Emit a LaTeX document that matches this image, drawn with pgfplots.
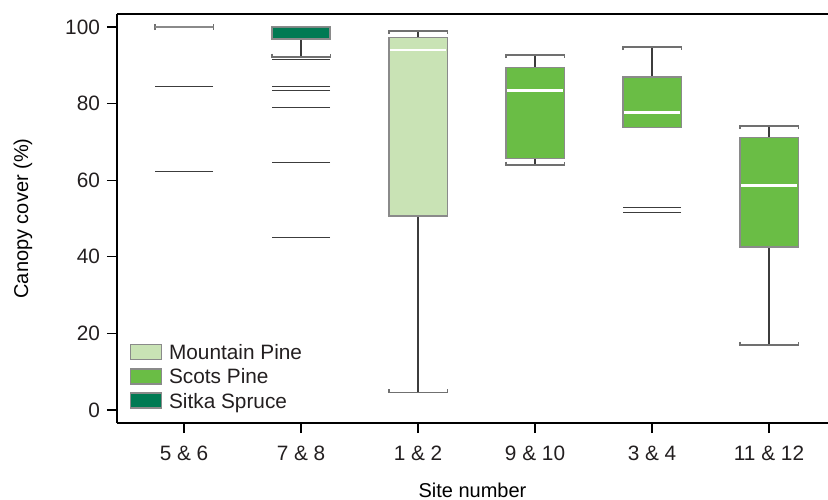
\documentclass[border=0pt]{standalone}
\usepackage{pgfplots}
\pgfplotsset{compat=1.18}
\usepgfplotslibrary{statistics}
\usetikzlibrary{calc}
\usepackage{fontspec}
\setmainfont{Liberation Sans}
\definecolor{txt}{HTML}{231F20}
\definecolor{mpine}{HTML}{C9E3B5}
\definecolor{spine}{HTML}{6ABD45}
\definecolor{sitka}{HTML}{007A53}
\definecolor{boxgray}{HTML}{8A8A8A}
\definecolor{stemcol}{HTML}{3C3C3C}
\definecolor{capcol}{HTML}{707070}
\begin{document}
\begin{tikzpicture}
\begin{axis}[name=ax, scale only axis, width=355.5pt, height=204.5pt,
  xmin=-0.573, xmax=5.504, ymin=-3.4, ymax=103.4,
  axis x line*=box, axis y line*=left,
  axis line style={black, line width=0.9pt},
  xtick pos=left, ytick pos=left,
  tick align=outside, major tick length=5pt,
  tick style={black, line width=0.6pt},
  xtick={0,1,2,3,4,5},
  xticklabels={5 \& 6, 7 \& 8, 1 \& 2, 9 \& 10, 3 \& 4, 11 \& 12},
  ytick={0,20,40,60,80,100},
  /pgf/number format/assume math mode=true,
  ticklabel style={font=\fontsize{10.4}{12}\selectfont, text=txt},
  xticklabel style={yshift=-3pt},
  label style={font=\fontsize{10.4}{12}\selectfont, text=txt},
  xlabel={Site number}, ylabel={Canopy cover (\%)},
  every axis x label/.style={at={(axis description cs:0.5,-0.1638)}, anchor=center},
  every axis y label/.style={at={(axis description cs:-0.1322,0.5)}, rotate=90, anchor=center},
  boxplot/draw direction=y,
  boxplot/every median/.style={draw=white, line width=1.1pt, shorten <=0.5pt, shorten >=0.5pt},
  boxplot/draw/lower whisker/.code={%
    \draw[draw=stemcol, fill=none, line width=0.6pt]
      (boxplot cs:\pgfplotsboxplotvalue{lower whisker}) -- (boxplot cs:\pgfplotsboxplotvalue{lower quartile});
    \draw[draw=capcol, fill=none, line width=0.75pt]
      (boxplot whisker cs:\pgfplotsboxplotvalue{lower whisker},0) ++(0pt,1.6pt) -- ++(0pt,-1.6pt)
      -- (boxplot whisker cs:\pgfplotsboxplotvalue{lower whisker},1) -- ++(0pt,1.6pt);
  },
  boxplot/draw/upper whisker/.code={%
    \draw[draw=stemcol, fill=none, line width=0.6pt]
      (boxplot cs:\pgfplotsboxplotvalue{upper whisker}) -- (boxplot cs:\pgfplotsboxplotvalue{upper quartile});
    \draw[draw=capcol, fill=none, line width=0.75pt]
      (boxplot whisker cs:\pgfplotsboxplotvalue{upper whisker},0) ++(0pt,-1.6pt) -- ++(0pt,1.6pt)
      -- (boxplot whisker cs:\pgfplotsboxplotvalue{upper whisker},1) -- ++(0pt,-1.6pt);
  },
  legend style={draw=none, fill=none, at={(axis description cs:0,0)}, anchor=south west,
    xshift=6.1pt, yshift=6.25pt, inner sep=0pt, row sep=2.6pt,
    font=\fontsize{10.4}{12}\selectfont, text=txt,
    nodes={text height=7.5pt, text depth=0pt, inner ysep=1pt, inner xsep=3.5pt}},
  legend cell align=left,
  legend image code/.code={\draw[#1] (0pt,-3.7pt) rectangle (15.5pt,3.8pt);},
]
\addlegendimage{fill=mpine, draw=boxgray, line width=0.75pt}
\addlegendentry{Mountain Pine}
\addlegendimage{fill=spine, draw=boxgray, line width=0.75pt}
\addlegendentry{Scots Pine}
\addlegendimage{fill=sitka, draw=boxgray, line width=0.75pt}
\addlegendentry{Sitka Spruce}

% 5 & 6
\addplot[forget plot, draw=boxgray, line width=1pt, boxplot/every median/.style={draw=none},
  boxplot prepared={draw position=0, lower whisker=100, lower quartile=100, median=100,
  upper quartile=100, upper whisker=100, box extend=0.5, whisker extend=0.5}] coordinates {};
% 7 & 8
\addplot[forget plot, fill=sitka, draw=boxgray, line width=0.9pt, boxplot/every median/.style={draw=none},
  boxplot prepared={draw position=1, lower whisker=92.2, lower quartile=96.8, median=100,
  upper quartile=100, upper whisker=100, box extend=0.5, whisker extend=0.5}] coordinates {};
% 1 & 2
\addplot[forget plot, fill=mpine, draw=boxgray, line width=0.75pt,
  boxplot prepared={draw position=2, lower whisker=4.6, lower quartile=50.6, median=94.1,
  upper quartile=97.3, upper whisker=99.0, box extend=0.5, whisker extend=0.5}] coordinates {};
% 9 & 10
\addplot[forget plot, fill=spine, draw=boxgray, line width=0.75pt,
  boxplot prepared={draw position=3, lower whisker=64.0, lower quartile=65.7, median=83.4,
  upper quartile=89.4, upper whisker=92.7, box extend=0.5, whisker extend=0.5}] coordinates {};
% 3 & 4
\addplot[forget plot, fill=spine, draw=boxgray, line width=0.75pt,
  boxplot prepared={draw position=4, lower whisker=73.7, lower quartile=73.7, median=77.7,
  upper quartile=87.0, upper whisker=94.8, box extend=0.5, whisker extend=0.5}] coordinates {};
% 11 & 12
\addplot[forget plot, fill=spine, draw=boxgray, line width=0.75pt,
  boxplot prepared={draw position=5, lower whisker=17.0, lower quartile=42.6, median=58.6,
  upper quartile=71.2, upper whisker=74.2, box extend=0.5, whisker extend=0.5}] coordinates {};

% outliers
\addplot[forget plot, only marks, mark=-, mark size=14.5pt, mark options={draw=stemcol, line width=0.6pt}]
  coordinates {(0,84.4) (0,62.2) (1,91.6) (1,84.4) (1,83.4) (1,78.9) (1,64.6) (1,45.1) (4,52.9) (4,51.5)};
\end{axis}
\pgfresetboundingbox
\path[use as bounding box] ($(ax.south west)+(-58.5pt,-38pt)$) rectangle ($(ax.north east)+(0,7pt)$);
\end{tikzpicture}
\end{document}
